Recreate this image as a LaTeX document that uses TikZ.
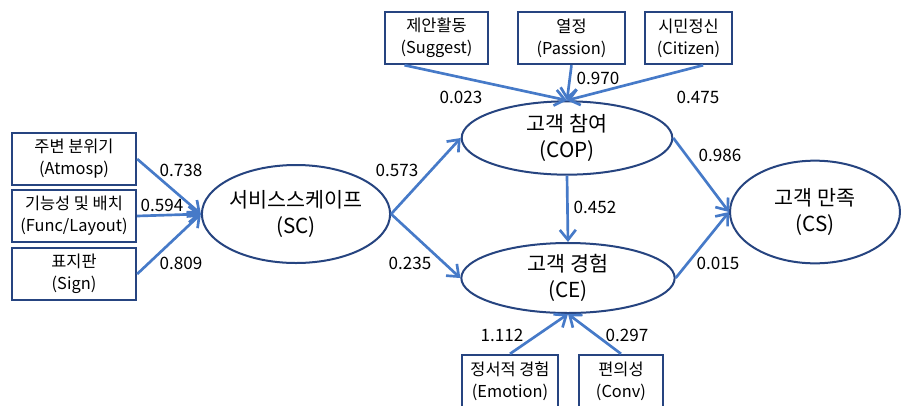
\documentclass[tikz,border=0pt]{standalone}
\usepackage{fontspec}
\setmainfont{Noto Sans CJK KR}
\usepackage{xcolor}
\usetikzlibrary{arrows.meta, positioning, shapes.geometric}
\definecolor{frameblue}{RGB}{38, 68, 128}
\definecolor{pathblue}{RGB}{70, 122, 200}

\begin{document}
\begin{tikzpicture}[
        x=0.75pt, y=-0.75pt,
        box/.style={rectangle, draw=frameblue, line width=1.8pt, minimum height=39pt, align=center, inner sep=0pt, font=\fontsize{12.3}{16.5}\selectfont},
        latent/.style={ellipse, draw=frameblue, line width=1.5pt, fill=white, align=center, inner sep=0pt, font=\fontsize{15.5}{19}\selectfont},
        arrow/.style={draw=pathblue, line width=2pt, -{Straight Barb[length=7.5pt, width=12pt, line width=2pt]}},
        coef/.style={font=\fontsize{12.8}{14}\selectfont, inner sep=1pt}
    ]
        \useasboundingbox (0,0) rectangle (901,405);
        \clip (0,0) rectangle (901,405);

        % Indicators of SC
        \node[box, minimum width=93pt] (atmo) at (74,159) {주변 분위기\\(Atmosp)};
        \node[box, minimum width=93pt] (func) at (74,216) {기능성 및 배치\\(Func/Layout)};
        \node[box, minimum width=93pt] (sign) at (74,274) {표지판\\(Sign)};

        % Indicators of COP
        \node[box, minimum width=77pt] (sugg) at (436.5,38) {제안활동\\(Suggest)};
        \node[box, minimum width=80pt] (pass) at (571.5,38) {열정\\(Passion)};
        \node[box, minimum width=65pt] (citi) at (688.5,38) {시민정신\\(Citizen)};

        % Indicators of CE
        \node[box, minimum width=72pt] (emot) at (510,381) {정서적 경험\\(Emotion)};
        \node[box, minimum width=63pt] (conv) at (621,381) {편의성\\(Conv)};

        % Latent variables
        \node[latent, minimum width=135pt, minimum height=73.5pt] (sc) at (296,214) {서비스스케이프\\(SC)};
        \node[latent, minimum width=158pt, minimum height=55pt] (cop) at (567,138) {고객 참여\\(COP)};
        \node[latent, minimum width=160pt, minimum height=52.5pt] (ce) at (568,278) {고객 경험\\(CE)};
        \node[latent, minimum width=127.5pt, minimum height=77pt] (cs) at (815,212) {고객 만족\\(CS)};

        % Arrows
        \draw[arrow] (atmo.east) -- (sc.west);
        \draw[arrow] (func.east) -- (sc.west);
        \draw[arrow] (sign.east) -- (sc.west);
        \draw[arrow] ([xshift=-24pt]sugg.south) -- (cop.north);
        \draw[arrow] (pass.south) -- (cop.north);
        \draw[arrow] ([xshift=11pt]citi.south) -- (cop.north);
        \draw[arrow] (sc.east) -- (cop.west);
        \draw[arrow] (sc.east) -- (ce.west);
        \draw[arrow] (cop.south) -- (ce.north);
        \draw[arrow] (emot.north) -- (ce.south);
        \draw[arrow] (conv.north) -- (ce.south);
        \draw[arrow] (cop.east) -- (cs.west);
        \draw[arrow] (ce.east) -- (cs.west);

        % Path coefficients
        \node[coef] (c1) at (181,170) {0.738};
        \node[coef] (c2) at (162,205) {0.594};
        \node[coef] (c3) at (181,263) {0.809};
        \node[coef] (c4) at (461,97) {0.023};
        \node[coef] (c5) at (598,78) {0.970};
        \node[coef] (c6) at (698,97) {0.475};
        \node[coef] (c7) at (397,170) {0.573};
        \node[coef] (c8) at (410,263) {0.235};
        \node[coef] (c9) at (595,207) {0.452};
        \node[coef] (c10) at (502,335) {1.112};
        \node[coef] (c11) at (627,335) {0.297};
        \node[coef] (c12) at (720,155) {0.986};
        \node[coef] (c13) at (718,263) {0.015};
    \end{tikzpicture}
\end{document}
